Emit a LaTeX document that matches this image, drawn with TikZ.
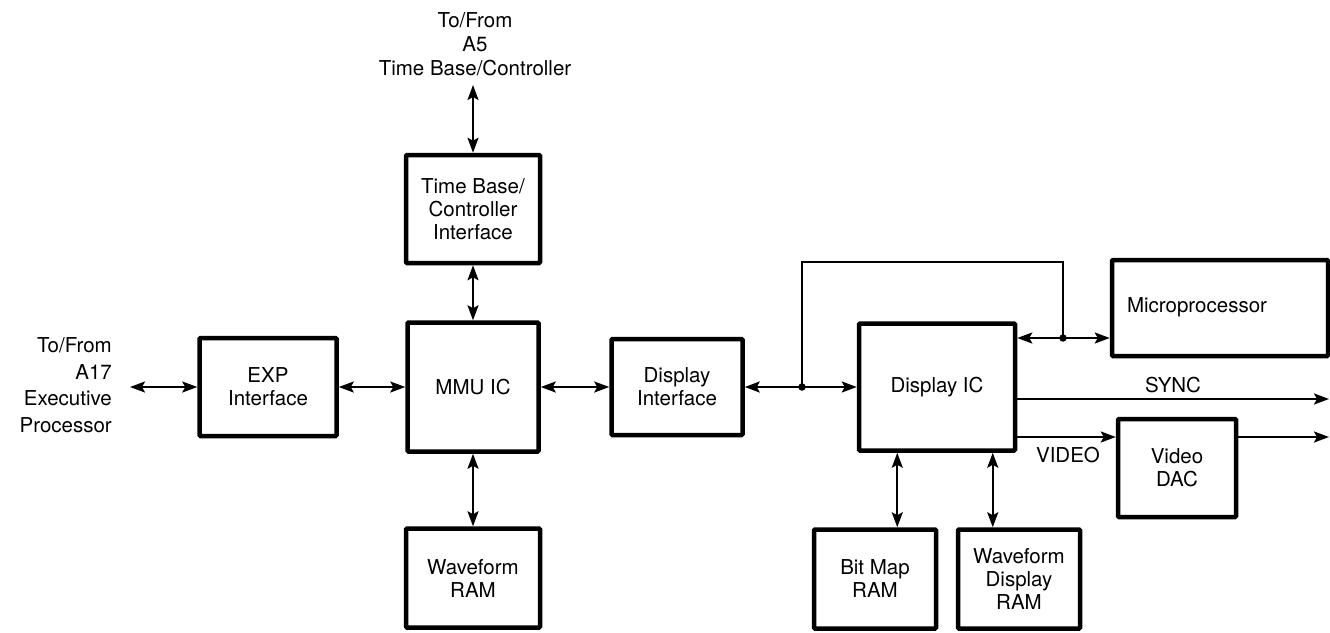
\documentclass[tikz,border=0pt]{standalone}
\usepackage{fontspec}
\setmainfont{TeX Gyre Heros}
\usetikzlibrary{arrows.meta,calc}
\begin{document}
\begin{tikzpicture}[x=1pt,y=-1pt,
  box/.style={draw, line width=4.5pt, rounded corners=1pt, inner sep=0pt, align=center, font=\fontsize{20.5}{23}\selectfont},
  lbl/.style={inner sep=0pt, align=center, font=\fontsize{20.5}{24}\selectfont},
  conn/.style={line width=2.2pt, {Stealth[length=15pt,width=11pt,inset=3pt]}-{Stealth[length=15pt,width=11pt,inset=3pt]}},
  oneway/.style={line width=2.2pt, -{Stealth[length=15pt,width=11pt,inset=3pt]}},
  bus/.style={line width=1.6pt},
  dotmark/.style={circle, fill, inner sep=0pt, minimum size=7.5pt}
]
\useasboundingbox (0,0) rectangle (1330,632);

% boxes
\node[box, minimum width=134pt, minimum height=108pt] (tb) at (473,209) {Time Base/\\Controller\\Interface};
\node[box, minimum width=131pt, minimum height=129pt] (mmu) at (473,387) {MMU IC};
\node[box, minimum width=134pt, minimum height=99pt] (wram) at (473,578) {Waveform\\RAM};
\node[box, minimum width=137pt, minimum height=98pt] (exp) at (268,387) {EXP\\Interface};
\node[box, minimum width=131pt, minimum height=96pt] (di) at (677,387) {Display\\Interface};
\node[box, minimum width=156pt, minimum height=127pt] (dic) at (937,387) {Display IC};
\node[box, minimum width=216pt, minimum height=96pt] (micro) at (1220,308) {};
\node[lbl] (microtxt) at (1197,307) {Microprocessor};
\node[box, minimum width=118pt, minimum height=98pt] (vdac) at (1177,468) {Video\\DAC};
\node[box, minimum width=122pt, minimum height=99pt] (bmr) at (875,579) {Bit Map\\RAM};
\node[box, minimum width=122pt, minimum height=99pt] (wdr) at (1019,579) {Waveform\\Display\\RAM};

% outside labels
\node[lbl] (a5) at (475,44) {To/From\\A5\\Time Base/Controller};
\node[lbl, align=right, anchor=east, font=\fontsize{20.5}{26.5}\selectfont] (a17) at (112,385) {To/From\\A17\\Executive\\Processor};
\node[lbl] (sync) at (1173,385) {SYNC};
\node[lbl] (video) at (1068,455) {VIDEO};

% free ends and junctions
\coordinate (tbin) at (473,85);
\coordinate (exin) at (130,387);
\node[dotmark] (dot1) at (802,387) {};
\node[dotmark] (dot2) at (1063,338) {};
\coordinate (busc) at (1063,262);
\coordinate (syncout) at (1329,399);
\coordinate (vout) at (1329,437);

% connectors
\draw[conn] (tbin) -- (tb.north);
\draw[conn] (tb.south) -- (mmu.north);
\draw[conn] (mmu.south) -- (wram.north);
\draw[conn] (exin) -- (exp.west);
\draw[conn] (exp.east) -- (mmu.west);
\draw[conn] (mmu.east) -- (di.west);
\draw[conn] (di.east) -- (dic.west);
\draw[bus] (dot1.center) |- (busc) -- (dot2.center);
\draw[conn] (dic.east |- dot2) -- (micro.west |- dot2);
\draw[oneway] (dic.east |- syncout) -- (syncout);
\draw[oneway] (dic.east |- vout) -- (vdac.west |- vout);
\draw[oneway] (vdac.east |- vout) -- (vout);
\draw[conn] (dic.south -| bmr.east) ++(-41,0) coordinate (bmrtop) -- (bmrtop |- bmr.north);
\draw[conn] (dic.south -| wdr.west) ++(37,0) coordinate (wdrtop) -- (wdrtop |- wdr.north);
\end{tikzpicture}
\end{document}
